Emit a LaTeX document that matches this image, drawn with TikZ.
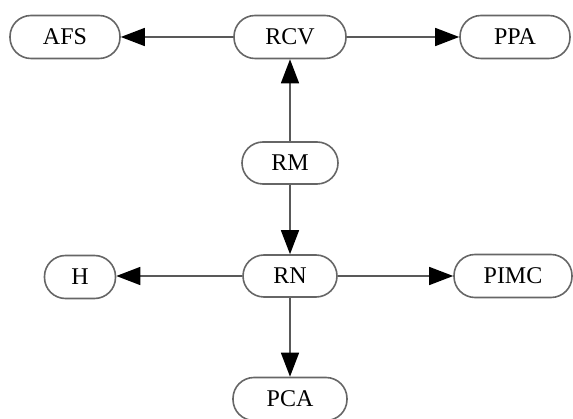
\documentclass[tikz,border=0pt]{standalone}
\usepackage{fontspec}
\setmainfont{Liberation Serif}
\usetikzlibrary{arrows.meta}
\begin{document}
\begin{tikzpicture}[x=1pt,y=-1pt,
  box/.style={draw=gray!80!black, line width=1.6pt, fill=white, rectangle, rounded corners=21pt,
    minimum height=43pt, inner sep=0pt, font=\fontsize{24}{28}\selectfont},
  conn/.style={draw=gray!70!black, line width=1.5pt, -{Triangle[length=24pt,width=18pt,color=black]}}]
\useasboundingbox (0,0) rectangle (573,419);
\node[box, minimum width=110pt] (afs) at (65,37) {AFS};
\node[box, minimum width=112pt] (rcv) at (290,37) {RCV};
\node[box, minimum width=110pt] (ppa) at (515,37) {PPA};
\node[box, minimum width=96pt, minimum height=42pt] (rm) at (290,163) {RM};
\node[box, minimum width=94pt, minimum height=42pt] (rn) at (290,276) {RN};
\node[box, minimum width=71pt] (h) at (80,277) {H};
\node[box, minimum width=118pt] (pimc) at (513,276) {PIMC};
\node[box, minimum width=114pt] (pca) at (290,399) {PCA};
\draw[conn] (rcv) -- (afs);
\draw[conn] (rcv) -- (ppa);
\draw[conn] (rm) -- (rcv);
\draw[conn] (rm) -- (rn);
\draw[conn] (rn.west) -- (h.east |- rn.west);
\draw[conn] (rn) -- (pimc);
\draw[conn] (rn) -- (pca);
\end{tikzpicture}
\end{document}
